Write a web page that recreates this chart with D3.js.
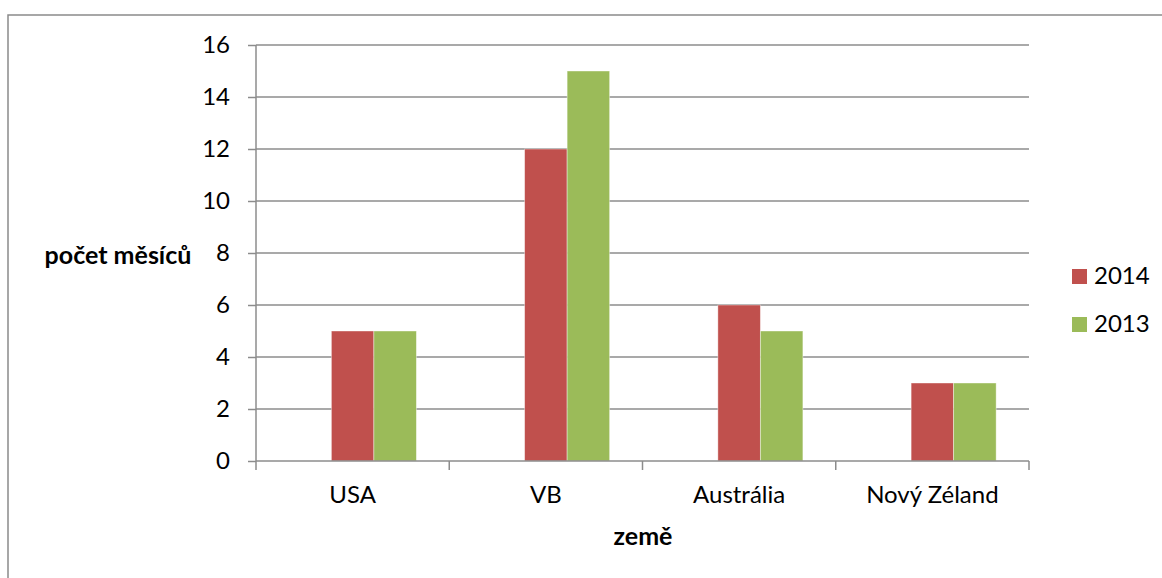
<!DOCTYPE html>
<html>
<head>
<meta charset="utf-8">
<script src="https://cdn.jsdelivr.net/npm/d3@7"></script>
<style>
  html, body { margin: 0; padding: 0; background: #fff; }
  svg { display: block; }
  text { font-family: "Lato", "Open Sans", sans-serif; fill: #000; }
</style>
</head>
<body>
<svg id="chart" width="1162" height="578"></svg>
<script>
const categories = ["USA", "VB", "Austrália", "Nový Zéland"];
const series2014 = [5, 12, 6, 3];
const series2013 = [5, 15, 5, 3];
const seriesNames = ["2014", "2013"];
const slots = ["", "2014", "2013"]; // first slot is an empty series in the source
const yTicks = [0, 2, 4, 6, 8, 10, 12, 14, 16];
const yTitle = "počet měsíců";
const xTitle = "země";
const colors = { "2014": "#C0504D", "2013": "#9BBB59" };

const svg = d3.select("#chart");
const fs = 24;

// outer frame (extends past right/bottom edges)
svg.append("rect").attr("x", 8).attr("y", 15).attr("width", 1200).attr("height", 700)
  .attr("fill", "none").attr("stroke", "#8a8a8a").attr("stroke-width", 1.5);

const x0 = d3.scaleBand().domain(categories).range([256, 1029]).paddingInner(0).paddingOuter(0);
const x1 = d3.scaleBand().domain(slots).range([0, x0.bandwidth()]).paddingInner(0).paddingOuter(0.773);
const y = d3.scaleLinear().domain([0, 16]).range([461, 45]);

// gridlines
svg.append("g").selectAll("line").data(yTicks.filter(d => d > 0)).join("line")
  .attr("x1", 256).attr("x2", 1029)
  .attr("y1", d => y(d)).attr("y2", d => y(d))
  .attr("stroke", "#8c8c8c").attr("stroke-width", 1.5);

// bars
const rows = categories.map((c, i) => ({ cat: c, "2014": series2014[i], "2013": series2013[i] }));
const g = svg.append("g");
rows.forEach(r => {
  seriesNames.forEach(s => {
    g.append("rect")
      .attr("x", x0(r.cat) + x1(s))
      .attr("y", y(r[s]))
      .attr("width", x1.bandwidth())
      .attr("height", y(0) - y(r[s]))
      .attr("fill", colors[s])
      .attr("stroke", "rgba(255,255,255,0.5)").attr("stroke-width", 0.8);
  });
});

// y axis
const yAxis = d3.axisLeft(y).tickValues(yTicks).tickSize(8).tickPadding(18).tickFormat(d3.format("d"));
const ya = svg.append("g").attr("transform", "translate(256,0)").call(yAxis);
ya.select(".domain").attr("stroke", "#8c8c8c").attr("stroke-width", 1.5).attr("d", "M0,45V461");
ya.selectAll(".tick line").attr("stroke", "#8c8c8c").attr("stroke-width", 1.5);
ya.selectAll(".tick text").attr("font-size", fs).attr("font-family", "Lato").attr("fill", "#000");

// x axis
const xAxis = d3.axisBottom(x0).tickSize(0).tickPadding(25);
const xa = svg.append("g").attr("transform", "translate(0,461)").call(xAxis);
xa.select(".domain").attr("stroke", "#8c8c8c").attr("stroke-width", 1.5).attr("d", "M256,0H1029");
xa.selectAll(".tick text").attr("font-size", fs).attr("font-family", "Lato").attr("fill", "#000");
// category boundary ticks
const bounds = categories.map(c => x0(c)).concat([x0.range()[1]]);
xa.append("g").selectAll("line").data(bounds).join("line")
  .attr("x1", d => d).attr("x2", d => d).attr("y1", 0).attr("y2", 9)
  .attr("stroke", "#8c8c8c").attr("stroke-width", 1.5);

// titles
svg.append("text").attr("x", 118).attr("y", 264).attr("text-anchor", "middle")
  .attr("font-size", 25).attr("font-weight", "bold").text(yTitle);
svg.append("text").attr("x", 643).attr("y", 545).attr("text-anchor", "middle")
  .attr("font-size", 25).attr("font-weight", "bold").text(xTitle);

// legend
const lg = svg.append("g");
seriesNames.forEach((s, i) => {
  const ly = 269 + i * 48;
  lg.append("rect").attr("x", 1072).attr("y", ly).attr("width", 15).attr("height", 15).attr("fill", colors[s]);
  lg.append("text").attr("x", 1094).attr("y", ly + 15).attr("font-size", fs).text(s);
});
</script>
</body>
</html>
